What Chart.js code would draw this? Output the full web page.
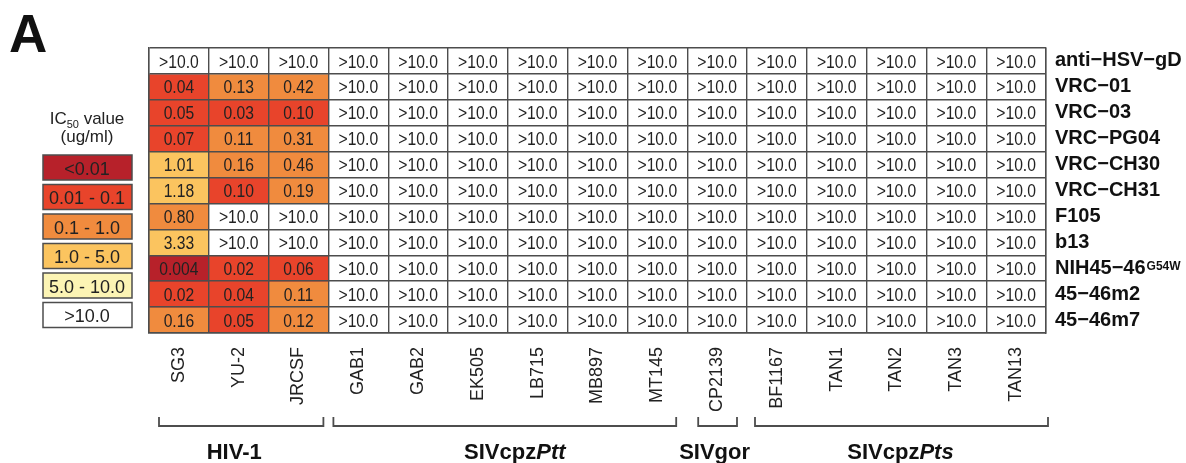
<!DOCTYPE html>
<html>
<head>
<meta charset="utf-8">
<script src="https://cdn.jsdelivr.net/npm/chart.js@4"></script>
<style>
  html, body { margin: 0; padding: 0; background: #fff; }
  canvas { display: block; }
</style>
</head>
<body>
<canvas id="chart" width="1186" height="463"></canvas>
<script>
// Virus strains (columns) and antibodies (rows)
const strains = ['SG3', 'YU-2', 'JRCSF', 'GAB1', 'GAB2', 'EK505', 'LB715', 'MB897', 'MT145',
                 'CP2139', 'BF1167', 'TAN1', 'TAN2', 'TAN3', 'TAN13'];
const antibodies = ['anti−HSV−gD', 'VRC−01', 'VRC−03', 'VRC−PG04', 'VRC−CH30', 'VRC−CH31',
                    'F105', 'b13', 'NIH45−46', '45−46m2', '45−46m7'];
const superscripts = { 'NIH45−46': 'G54W' };

// IC50 (ug/ml) per strain, one entry per antibody; null = not reached at 10 ug/ml (>10.0)
const NR = null;
const ic50SG3   = [NR, 0.04, 0.05, 0.07, 1.01, 1.18, 0.80, 3.33, 0.004, 0.02, 0.16];
const ic50YU2   = [NR, 0.13, 0.03, 0.11, 0.16, 0.10, NR,   NR,   0.02,  0.04, 0.05];
const ic50JRCSF = [NR, 0.42, 0.10, 0.31, 0.46, 0.19, NR,   NR,   0.06,  0.11, 0.12];
const ic50SIV   = [NR, NR, NR, NR, NR, NR, NR, NR, NR, NR, NR];
const ic50ByStrain = [ic50SG3, ic50YU2, ic50JRCSF,
  ic50SIV, ic50SIV, ic50SIV, ic50SIV, ic50SIV, ic50SIV,
  ic50SIV, ic50SIV, ic50SIV, ic50SIV, ic50SIV, ic50SIV];

// Colour bins
const binUpper  = [0.01, 0.1, 1.0, 5.0, 10.0];
const binLabels = ['<0.01', '0.01 - 0.1', '0.1 - 1.0', '1.0 - 5.0', '5.0 - 10.0', '>10.0'];
const binColors = ['#b7212a', '#e8442b', '#f08b3e', '#fbc45f', '#fcf4b4', '#ffffff'];

// Virus groups: first and last strain index
const groupNames = [['HIV-1'], ['SIVcpz', 'Ptt'], ['SIVgor'], ['SIVcpz', 'Pts']];
const groupFrom  = [0, 3, 9, 10];
const groupTo    = [2, 8, 9, 14];

// Bracket styling: inset from the column edges (left, right) and name offset, in px
const bracketInset = [[10, 5], [5, 11], [11, 10], [8, -2]];
const nameShift = [-7, 10, -3, -1];

const FONT = '"Liberation Sans", Arial, Helvetica, sans-serif';
const LINE = '#4d4d4d';

function binOf(v) {
  if (v === null) return 5;
  if (v < binUpper[0]) return 0;
  for (let i = 1; i < binUpper.length; i++) if (v <= binUpper[i]) return i;
  return 5;
}
function fmt(v) {
  if (v === null) return '>10.0';
  return v < 0.01 ? v.toFixed(3) : v.toFixed(2);
}

const datasets = antibodies.map((ab, r) => ({
  label: ab,
  data: strains.map(() => [r, r + 1]),
  backgroundColor: strains.map((s, c) => binColors[binOf(ic50ByStrain[c][r])]),
  borderWidth: 0,
  grouped: false,
  barPercentage: 1,
  categoryPercentage: 1,
  yAxisID: 'y'
}));

// Cell values, legend, brackets and panel letter
const heatText = {
  id: 'heatText',
  afterDatasetsDraw(chart) {
    const ctx = chart.ctx;
    ctx.save();
    ctx.font = '18px ' + FONT;
    ctx.textAlign = 'center';
    ctx.textBaseline = 'alphabetic';
    ctx.fillStyle = '#222';
    chart.data.datasets.forEach((ds, r) => {
      chart.getDatasetMeta(r).data.forEach((bar, c) => {
        const p = bar.getProps(['x', 'y', 'base'], true);
        const cy = (p.y + p.base) / 2;
        ctx.save();
        ctx.translate(p.x, cy + 6.5);
        ctx.scale(0.87, 1);
        ctx.fillText(fmt(ic50ByStrain[c][r]), 0, 0);
        ctx.restore();
      });
    });
    ctx.restore();
  },
  afterDraw(chart) {
    const ctx = chart.ctx;
    ctx.save();

    // superscript on row label
    const ys = chart.scales.y2;
    antibodies.forEach((ab, i) => {
      if (!superscripts[ab]) return;
      ctx.font = 'bold 20px ' + FONT;
      const w = ctx.measureText(ab).width;
      const y = ys.getPixelForValue(i);
      ctx.font = 'bold 12px ' + FONT;
      ctx.fillStyle = '#111';
      ctx.textAlign = 'left';
      ctx.textBaseline = 'alphabetic';
      ctx.fillText(superscripts[ab], ys.left + 9 + w + 1, y + 1.5);
    });

    // panel letter
    ctx.fillStyle = '#111';
    ctx.font = 'bold 53px ' + FONT;
    ctx.textAlign = 'left';
    ctx.textBaseline = 'alphabetic';
    ctx.fillText('A', 9, 52);

    // legend title
    const lx = 87;
    ctx.fillStyle = '#222';
    ctx.font = '17px ' + FONT;
    const wIC = ctx.measureText('IC').width;
    const wVal = ctx.measureText(' value').width;
    ctx.font = '11px ' + FONT;
    const wSub = ctx.measureText('50').width;
    let tx = lx - (wIC + wSub + wVal) / 2;
    ctx.font = '17px ' + FONT;
    ctx.fillText('IC', tx, 124);
    ctx.font = '11px ' + FONT;
    ctx.fillText('50', tx + wIC, 128);
    ctx.font = '17px ' + FONT;
    ctx.fillText(' value', tx + wIC + wSub, 124);
    ctx.textAlign = 'center';
    ctx.fillText('(ug/ml)', lx, 142);

    // legend boxes
    binLabels.forEach((lab, i) => {
      const top = 155 + i * 29.5;
      ctx.fillStyle = binColors[i];
      ctx.fillRect(43, top, 89, 25);
      ctx.strokeStyle = LINE;
      ctx.lineWidth = 1.5;
      ctx.strokeRect(43, top, 89, 25);
      ctx.fillStyle = '#222';
      ctx.font = '18px ' + FONT;
      ctx.textAlign = 'center';
      ctx.fillText(lab, lx, top + 19.5);
    });

    // group brackets and names
    const xs = chart.scales.x;
    const half = (xs.getPixelForTick(1) - xs.getPixelForTick(0)) / 2;
    ctx.strokeStyle = LINE;
    ctx.lineWidth = 1.8;
    groupNames.forEach((name, g) => {
      const x0 = xs.getPixelForTick(groupFrom[g]) - half + bracketInset[g][0];
      const x1 = xs.getPixelForTick(groupTo[g]) + half - bracketInset[g][1];
      ctx.beginPath();
      ctx.moveTo(x0, 417);
      ctx.lineTo(x0, 426);
      ctx.lineTo(x1, 426);
      ctx.lineTo(x1, 417);
      ctx.stroke();

      ctx.fillStyle = '#111';
      ctx.textAlign = 'left';
      const fonts = ['bold 22px ' + FONT, 'italic bold 22px ' + FONT];
      let total = 0;
      name.forEach((part, k) => { ctx.font = fonts[k]; total += ctx.measureText(part).width; });
      let px = (x0 + x1) / 2 + nameShift[g] - total / 2;
      name.forEach((part, k) => {
        ctx.font = fonts[k];
        ctx.fillText(part, px, 459);
        px += ctx.measureText(part).width;
      });
    });
    ctx.restore();
  }
};

new Chart(document.getElementById('chart'), {
  type: 'bar',
  data: { labels: strains, datasets },
  options: {
    responsive: false,
    animation: false,
    devicePixelRatio: 1,
    layout: { padding: { left: 149, top: 48, right: 0, bottom: 0 } },
    plugins: { legend: { display: false }, tooltip: { enabled: false } },
    scales: {
      x: {
        type: 'category',
        position: 'bottom',
        offset: true,
        grid: { offset: true, color: LINE, lineWidth: 1.4, drawTicks: false, z: 1 },
        border: { color: LINE, width: 1.4, z: 1 },
        ticks: {
          minRotation: 90, maxRotation: 90, autoSkip: false,
          font: { family: FONT, size: 18 }, color: '#222', padding: 14
        },
        afterFit(s) { s.height = 130; }
      },
      y: {
        type: 'linear',
        position: 'left',
        min: 0, max: 11,
        reverse: true,
        ticks: { display: false, stepSize: 1 },
        grid: { color: LINE, lineWidth: 1.4, drawTicks: false, z: 1 },
        border: { color: LINE, width: 1.4, z: 1 },
        afterFit(s) { s.width = 0; }
      },
      y2: {
        type: 'category',
        position: 'right',
        labels: antibodies,
        offset: true,
        grid: { display: false, drawTicks: false },
        border: { display: true, color: LINE, width: 1.4, z: 1 },
        ticks: { autoSkip: false, font: { family: FONT, size: 20, weight: 'bold' }, color: '#111', padding: 9 },
        afterFit(s) { s.width = 140; }
      }
    }
  },
  plugins: [heatText]
});
</script>
</body>
</html>
